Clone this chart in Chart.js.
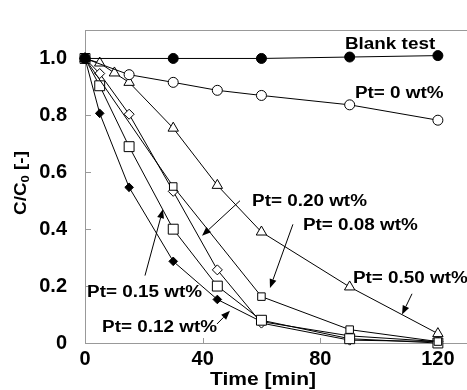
<!DOCTYPE html>
<html>
<head>
<meta charset="utf-8">
<script src="https://cdn.jsdelivr.net/npm/chart.js@4/dist/chart.umd.min.js"></script>
<style>
  html, body { margin: 0; padding: 0; background: #fff; overflow: hidden; }
  #wrap { width: 490px; height: 390px; }
</style>
</head>
<body>
<div id="wrap"><canvas id="plot" width="490" height="390"></canvas></div>
<script>
// time [min] and C/C0 for each run
const blankTime = [0, 30, 60, 90, 120];
const blankC = [1.0, 1.0, 1.0, 1.005, 1.01];
const pt0Time = [0, 15, 30, 45, 60, 90, 120];
const pt0C = [1.0, 0.943, 0.916, 0.888, 0.87, 0.837, 0.783];
const pt050Time = [0, 5, 10, 15, 30, 45, 60, 90, 120];
const pt050C = [1.0, 0.984, 0.949, 0.916, 0.755, 0.554, 0.39, 0.197, 0.033];
const pt020Time = [0, 5, 15, 30, 45, 60, 90, 120];
const pt020C = [1.0, 0.947, 0.804, 0.533, 0.257, 0.07, 0.01, 0.005];
const pt015Time = [0, 5, 15, 30, 45, 60, 90, 120];
const pt015C = [1.0, 0.904, 0.69, 0.4, 0.2, 0.08, 0.015, 0.0];
const pt008Time = [0, 30, 60, 90, 120];
const pt008C = [1.0, 0.55, 0.163, 0.047, 0.005];
const pt012Time = [0, 5, 15, 30, 45, 60, 90, 120];
const pt012C = [1.0, 0.807, 0.547, 0.287, 0.153, 0.075, 0.025, 0.005];

const xTicks = [0, 40, 80, 120];
const yTicks = [0, 0.2, 0.4, 0.6, 0.8, 1.0];

// labels: text, anchor (time, C/C0) of left-middle
const labels = [
  { text: "Blank test", t: 88.4, c: 1.05 },
  { text: "Pt= 0 wt%", t: 91.8, c: 0.877 },
  { text: "Pt= 0.20 wt%", t: 56.8, c: 0.498 },
  { text: "Pt= 0.08 wt%", t: 74.1, c: 0.413 },
  { text: "Pt= 0.50 wt%", t: 91.1, c: 0.228 },
  { text: "Pt= 0.15 wt%", t: 0.7, c: 0.177 },
  { text: "Pt= 0.12 wt%", t: 5.8, c: 0.053 }
];
// arrows: from (t1,c1) to head (t2,c2)
const arrows = [
  [52.7, 0.5, 39.8, 0.377],
  [70.7, 0.417, 62.9, 0.193],
  [111.2, 0.173, 107.8, 0.1],
  [20.4, 0.237, 26.5, 0.47],
  [44.9, 0.067, 49.3, 0.113]
];

const FONT = "Arial, 'Liberation Sans', sans-serif";
const AXIS = "#999";

function pts(t, c) {
  return t.map((v, i) => ({ x: v, y: c[i] }));
}

function series(t, c, style, radius, fill) {
  return {
    data: pts(t, c),
    borderColor: "#000",
    borderWidth: 1,
    pointStyle: style,
    pointRadius: radius,
    pointBackgroundColor: fill,
    pointBorderColor: "#000",
    pointBorderWidth: 1,
    tension: 0,
    clip: false
  };
}

function stretchText(ctx, text, x, y, sx) {
  ctx.save();
  ctx.translate(x, y);
  ctx.scale(sx, 1);
  ctx.fillText(text, 0, 0);
  ctx.restore();
}

const decor = {
  id: "decor",
  beforeDatasetsDraw(chart) {
    const { ctx, chartArea: a, scales } = chart;
    ctx.save();
    ctx.strokeStyle = AXIS;
    ctx.lineWidth = 1;
    ctx.strokeRect(a.left + 0.5, a.top + 0.5, a.right - a.left, a.bottom - a.top);
    ctx.beginPath();
    yTicks.forEach(v => {
      const y = Math.round(scales.y.getPixelForValue(v)) + 0.5;
      ctx.moveTo(a.left, y);
      ctx.lineTo(a.left + 6, y);
    });
    xTicks.forEach(v => {
      const x = Math.round(scales.x.getPixelForValue(v)) + 0.5;
      ctx.moveTo(x, a.bottom);
      ctx.lineTo(x, a.bottom - 5);
    });
    ctx.stroke();
    ctx.restore();
  },
  afterDraw(chart) {
    const { ctx, scales } = chart;
    const sx = 1.18;
    ctx.save();
    ctx.fillStyle = "#000";
    ctx.strokeStyle = "#000";
    ctx.textBaseline = "middle";
    ctx.font = "bold 16px " + FONT;
    labels.forEach(l => {
      stretchText(ctx, l.text, scales.x.getPixelForValue(l.t), scales.y.getPixelForValue(l.c), sx);
    });

    // arrows
    ctx.lineWidth = 1;
    arrows.forEach(ar => {
      const x1 = scales.x.getPixelForValue(ar[0]), y1 = scales.y.getPixelForValue(ar[1]);
      const x2 = scales.x.getPixelForValue(ar[2]), y2 = scales.y.getPixelForValue(ar[3]);
      const ang = Math.atan2(y2 - y1, x2 - x1);
      const hl = 9, hw = 3.5;
      ctx.beginPath();
      ctx.moveTo(x1, y1);
      ctx.lineTo(x2 - Math.cos(ang) * hl, y2 - Math.sin(ang) * hl);
      ctx.stroke();
      ctx.beginPath();
      ctx.moveTo(x2, y2);
      ctx.lineTo(x2 - Math.cos(ang) * hl - Math.sin(ang) * hw, y2 - Math.sin(ang) * hl + Math.cos(ang) * hw);
      ctx.lineTo(x2 - Math.cos(ang) * hl + Math.sin(ang) * hw, y2 - Math.sin(ang) * hl - Math.cos(ang) * hw);
      ctx.closePath();
      ctx.fill();
    });

    // x title
    ctx.font = "bold 18px " + FONT;
    ctx.textBaseline = "alphabetic";
    const xt = "Time [min]";
    const xw = ctx.measureText(xt).width * 1.17;
    stretchText(ctx, xt, 263 - xw / 2, 385, 1.17);

    // y title with subscript
    ctx.save();
    ctx.translate(25.5, 183);
    ctx.rotate(-Math.PI / 2);
    ctx.scale(1.18, 1);
    ctx.font = "bold 16px " + FONT;
    const w1 = ctx.measureText("C/C").width;
    ctx.font = "bold 11px " + FONT;
    const w2 = ctx.measureText("0").width;
    ctx.font = "bold 16px " + FONT;
    const w3 = ctx.measureText(" [-]").width;
    let x = -(w1 + w2 + w3) / 2;
    ctx.fillText("C/C", x, 0);
    x += w1;
    ctx.font = "bold 11px " + FONT;
    ctx.fillText("0", x, 3);
    x += w2;
    ctx.font = "bold 16px " + FONT;
    ctx.fillText(" [-]", x, 0);
    ctx.restore();

    ctx.restore();
  }
};

new Chart(document.getElementById("plot").getContext("2d"), {
  type: "line",
  data: {
    datasets: [
      series(blankTime, blankC, "circle", 5, "#000"),
      series(pt0Time, pt0C, "circle", 5, "#fff"),
      series(pt050Time, pt050C, "triangle", 6, "#fff"),
      series(pt008Time, pt008C, "rect", 5.3, "#fff"),
      series(pt015Time, pt015C, "rect", 7, "#fff"),
      series(pt020Time, pt020C, "rectRot", 5, "#fff"),
      series(pt012Time, pt012C, "rectRot", 4.3, "#000")
    ]
  },
  options: {
    responsive: false,
    animation: false,
    layout: { padding: { top: 13, right: 8, left: 0, bottom: 0 } },
    plugins: { legend: { display: false }, tooltip: { enabled: false } },
    scales: {
      x: {
        type: "linear",
        min: 0,
        max: 135,
        afterBuildTicks: s => { s.ticks = xTicks.map(v => ({ value: v })); },
        afterFit: s => { s.height = 47; },
        grid: { display: false, drawTicks: false },
        border: { display: false },
        ticks: { color: "#000", padding: 4, maxRotation: 0, font: { family: FONT, size: 20, weight: "bold" } }
      },
      y: {
        min: 0,
        max: 1.1,
        afterBuildTicks: s => { s.ticks = yTicks.map(v => ({ value: v })); },
        afterFit: s => { s.width = 85; },
        grid: { display: false, drawTicks: false },
        border: { display: false },
        ticks: {
          color: "#000",
          padding: 18,
          font: { family: FONT, size: 20, weight: "bold" },
          callback: v => (v === 0 ? "0" : v.toFixed(1))
        }
      }
    }
  },
  plugins: [decor]
});
</script>
</body>
</html>
